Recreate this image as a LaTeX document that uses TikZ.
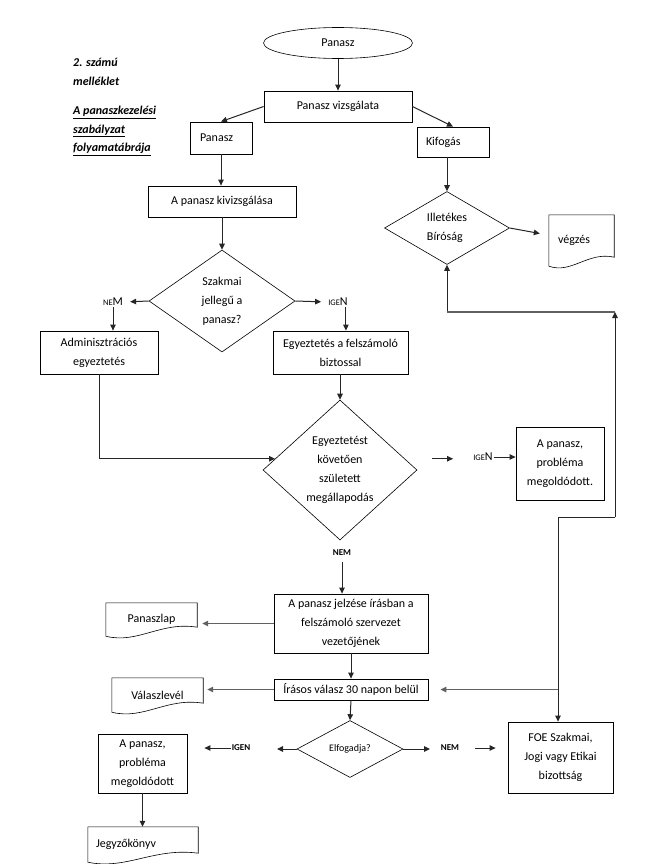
\documentclass[tikz,border=0pt]{standalone}
\usepackage{fontspec}
\setmainfont{Carlito}
\usetikzlibrary{shapes.geometric,arrows.meta,calc}
\tikzset{
  box/.style={draw, rectangle, line width=0.8pt, inner sep=2pt, align=center, font=\fontsize{12}{19}\selectfont},
  ell/.style={draw, ellipse, line width=0.6pt, inner sep=0pt, font=\fontsize{12}{19}\selectfont},
  dia/.style={draw, diamond, line width=0.6pt, inner sep=0pt, align=center, font=\fontsize{12}{19}\selectfont},
  doc/.style={rectangle, inner sep=2pt, font=\fontsize{12}{19}\selectfont},
  arr/.style={-{Triangle[length=6pt,width=5.5pt]}, line width=1pt, draw=black!85},
  gl/.style={line width=1.3pt, draw=black!62},
  lab/.style={font=\bfseries\fontsize{9}{9}\selectfont, inner sep=1pt},
  sc/.style={font=\fontsize{12}{12}\selectfont, inner sep=1pt},
  ttl/.style={font=\bfseries\itshape\fontsize{12}{18.5}\selectfont, align=left, anchor=west, inner sep=0pt},
}
\newcommand{\smallcapsx}[1]{{\fontsize{8.5}{8.5}\selectfont #1}}
\newcommand{\docpath}[1]{\draw[line width=0.6pt] (#1.north west) -- (#1.north east) -- ($(#1.south east)+(0,-9)$) .. controls ($(#1.south west)!0.6!(#1.south east)+(0,-15)$) and ($(#1.south west)!0.35!(#1.south east)+(0,8)$) .. (#1.south west) -- cycle;}
\begin{document}
\begin{tikzpicture}[x=1pt,y=-1pt]
\useasboundingbox (0,0) rectangle (648,864);
% title
\node[ttl] (t1) at (73,72) {2. számú\\melléklet};
\node[ttl] (t2) at (73,131) {\underline{A panaszkezelési}\\\underline{szabályzat}\\\underline{folyamatábrája}};
% nodes
\node[ell, minimum width=149, minimum height=31] (ell) at (338,43) {Panasz};
\node[box, minimum width=148, minimum height=31] (viz) at (338,106.5) {Panasz vizsgálata};
\node[box, text width=42, inner xsep=10, minimum height=32, align=left] (pan) at (221,138) {Panasz};
\node[box, text width=54, inner xsep=9, minimum height=30, align=left] (kif) at (453,142) {Kifogás};
\node[box, minimum width=148, minimum height=31] (kiv) at (222,201.5) {A panasz kivizsgálása};
\node[dia, minimum width=146, minimum height=102] (d1) at (222,301) {Szakmai\\jellegű a\\panasz?};
\node[sc] (nem1) at (113,302) {\smallcapsx{NE}M};
\node[sc] (igen1) at (338,302) {\smallcapsx{IGE}N};
\node[box, minimum width=118, minimum height=43] (adm) at (99,352.5) {Adminisztrációs\\egyeztetés};
\node[box, minimum width=135, minimum height=43] (egy) at (340.5,352.5) {Egyeztetés a felszámoló\\biztossal};
\node[dia, minimum width=154, minimum height=140] (d2) at (340,470) {Egyeztetést\\követően\\született\\megállapodás};
\node[sc] (igen2) at (483,457) {\smallcapsx{IGE}N};
\node[box, minimum width=88, minimum height=73] (meg1) at (560,463.5) {A panasz,\\probléma\\megoldódott.};
\node[lab] (nem2) at (342,553) {NEM};
\node[box, minimum width=154, minimum height=59] (jel) at (351,623.5) {A panasz jelzése írásban a\\felszámoló szervezet\\vezetőjének};
\node[doc, minimum width=91, minimum height=33] (panlap) at (151.5,619.5) {Panaszlap};
\docpath{panlap}
\node[box, minimum width=154, minimum height=21, inner ysep=0pt] (ira) at (351,689.5) {Írásos válasz 30 napon belül};
\node[doc, minimum width=91, minimum height=34] (valasz) at (157.5,695) {Válaszlevél};
\docpath{valasz}
\node[dia, font=\fontsize{10}{12}\selectfont, minimum width=106, minimum height=57] (d3) at (350,749) {Elfogadja?};
\node[lab] (igen3) at (241,748) {IGEN};
\node[lab] (nem3) at (450,748) {NEM};
\node[box, minimum width=89, minimum height=59] (meg2) at (142.5,763.5) {A panasz,\\probléma\\megoldódott};
\node[box, minimum width=105, minimum height=71] (foe) at (560.5,757.5) {FOE Szakmai,\\Jogi vagy Etikai\\bizottság};
\node[doc, text width=94, inner xsep=8, align=left, minimum height=35] (jegy) at (143,844.5) {Jegyzőkönyv};
\docpath{jegy}
\node[dia, minimum width=125, minimum height=73, align=left] (ill) at (447,228) {Illetékes\\Bíróság};
\node[doc, text width=47, inner xsep=9, align=left, minimum height=51] (vegz) at (581.5,240.5) {végzés};
\docpath{vegz}
% connectors
\draw[arr] (ell.south) -- (viz.north);
\draw[arr] (viz.west) -- (pan.north);
\draw[arr] (viz.east) -- (kif.north);
\draw[arr] (pan.south) -- (pan.south |- kiv.north);
\draw[arr] (kiv.south) -- (d1.north);
\draw[arr, shorten >=6pt] (d1.west) -- (nem1.east);
\draw[arr, shorten >=6pt] (d1.east) -- (igen1.west);
\draw[arr] (nem1.south) -- (nem1.south |- adm.north);
\draw[arr] ([xshift=-3pt]igen1.south east) -- ([xshift=-3pt]igen1.south east |- egy.north);
\draw[arr] (d2.north |- egy.south) -- (d2.north);
\coordinate (d2in) at ($(d2.west)!0.16!(d2.north)$);
\draw[arr] (adm.south) |- (d2in);
\coordinate (d2e) at ($(d2.east)!0.16!(d2.north)$);
\draw[arr, shorten <=27pt, shorten >=19pt] (d2e) -- (igen2.west |- d2e);
\draw[arr] (igen2.east) -- (igen2.east -| meg1.west);
\draw[arr, shorten <=5pt] (nem2.south) -- (nem2.south |- jel.north);
\draw[arr, gl, shorten >=5pt] (jel.west) -- (jel.west -| panlap.east);
\draw[arr] (jel.south) -- (ira.north);
\draw[arr, gl, shorten >=4pt] (ira.west) -- (ira.west -| valasz.east);
\draw[arr] (ira.south) -- (d3.north);
\coordinate (a3) at (277,749);
\coordinate (c3) at (430,749);
\draw[arr] (d3.west) -- (a3);
\draw[arr, shorten >=17pt] (igen3.west) -- (igen3.west -| meg2.east);
\draw[arr] (d3.east) -- (c3);
\draw[arr, shorten <=15pt, shorten >=12pt] (nem3.east) -- (nem3.east -| foe.west);
\draw[arr] (meg2.south) -- (meg2.south |- jegy.north);
\draw[arr] (ill.north |- kif.south) -- (ill.north);
\draw[arr] (ill.east) -- ([xshift=-9pt,yshift=7pt]vegz.west);
% right-hand return path
\coordinate (r1) at (447,312);
\coordinate (r2) at (615,312);
\coordinate (r3) at (615,517);
\coordinate (r4) at (558,517);
\coordinate (r5) at (558,689.5);
\draw[arr] (r1) -- (ill.south);
\draw[gl] (r1) -- (r2);
\draw[arr] (r3) -- (r2);
\draw[arr] (r3) -- (r4) -- (foe.north -| r4);
\draw[arr, gl, shorten >=12pt] (r5) -- (r5 -| ira.east);
\end{tikzpicture}
\end{document}
